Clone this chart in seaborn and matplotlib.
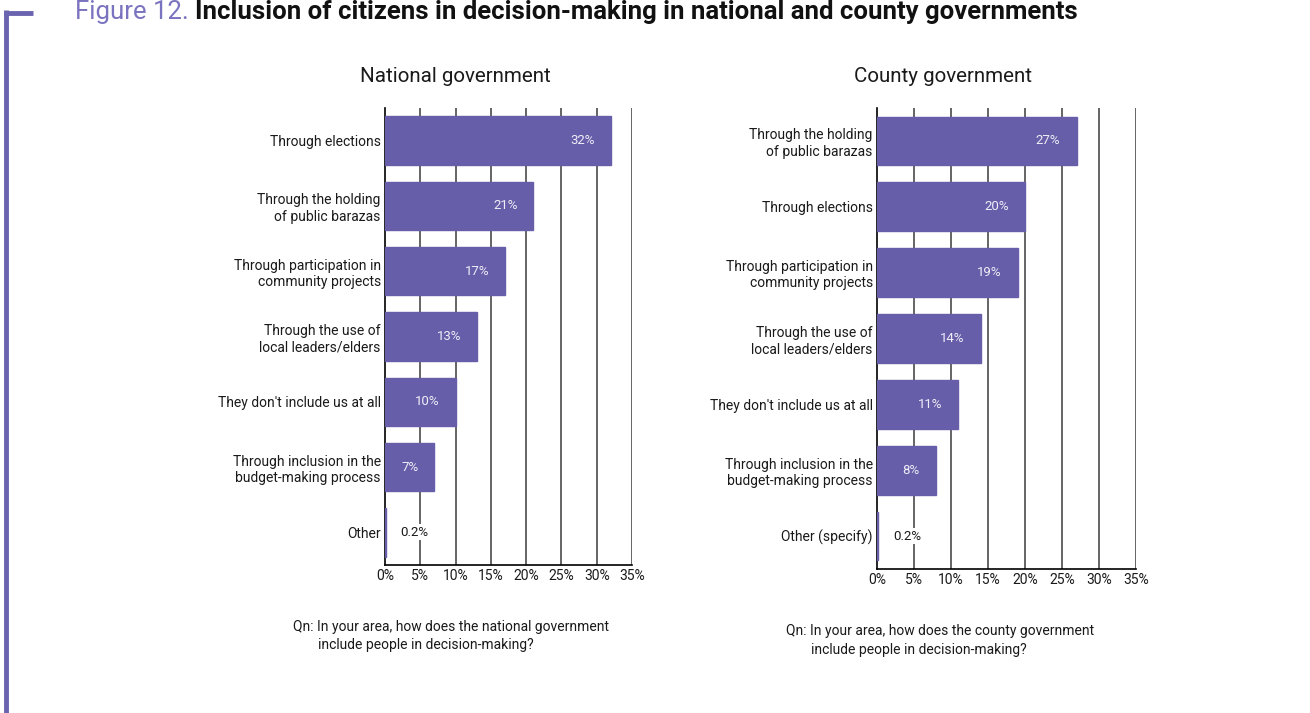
import matplotlib
matplotlib.use("Agg")
import matplotlib.pyplot as plt
import seaborn as sns
import pandas as pd
from matplotlib.lines import Line2D
from matplotlib.ticker import FuncFormatter

national_cats = ["Through elections", "Through the holding\nof public barazas",
                 "Through participation in\ncommunity projects", "Through the use of\nlocal leaders/elders",
                 "They don't include us at all", "Through inclusion in the\nbudget-making process", "Other"]
national_vals = [32, 21, 17, 13, 10, 7, 0.2]
national_labels = ["32%", "21%", "17%", "13%", "10%", "7%", "0.2%"]

county_cats = ["Through the holding\nof public barazas", "Through elections",
               "Through participation in\ncommunity projects", "Through the use of\nlocal leaders/elders",
               "They don't include us at all", "Through inclusion in the\nbudget-making process", "Other (specify)"]
county_vals = [27, 20, 19, 14, 11, 8, 0.2]
county_labels = ["27%", "20%", "19%", "14%", "11%", "8%", "0.2%"]

xticks = [0, 5, 10, 15, 20, 25, 30, 35]

sns.set_theme(style="white")
plt.rcParams['font.family'] = ['Roboto', 'DejaVu Sans']

PURPLE = "#665ea8"
W, H = 1310, 713
fig = plt.figure(figsize=(W/100, H/100), dpi=100)

def draw(rect, cats, vals, labels, title, title_x, note_lines, note_x, note_y):
    ax = fig.add_axes(rect)
    df = pd.DataFrame({"cat": cats, "val": vals})
    sns.barplot(data=df, y="cat", x="val", orient="h", color=PURPLE, width=0.74,
                saturation=1, linewidth=1.0, edgecolor=PURPLE, ax=ax)
    ax.set_xlim(0, 35)
    ax.set_ylim(6.5, -0.5)
    ax.set_xticks(xticks)
    ax.xaxis.set_major_formatter(FuncFormatter(lambda v, p: f"{int(v)}%"))
    ax.set_xlabel("")
    ax.set_ylabel("")
    for x in xticks[1:]:
        ax.axvline(x, color="#3a3a3a", lw=1.1, zorder=0)
    for s in ["top", "right"]:
        ax.spines[s].set_visible(False)
    for s in ["left", "bottom"]:
        ax.spines[s].set_color("black")
        ax.spines[s].set_linewidth(1.2)
        ax.spines[s].set_zorder(0.5)
    ax.tick_params(axis="both", length=0, labelsize=10, colors="#1a1a1a", pad=3)
    for lab in ax.get_yticklabels():
        lab.set_horizontalalignment("right")
        lab.set_multialignment("right")
    for i, (v, l) in enumerate(zip(vals, labels)):
        if v >= 3:
            ax.text(v - 2.2, i, l, ha="right", va="center", color="#f0eef8", fontsize=9.5)
        else:
            ax.text(v + 2.0, i, l, ha="left", va="center", color="#1a1a1a", fontsize=9.5,
                    bbox=dict(facecolor="white", edgecolor="none", pad=1))
    fig.text(title_x / W, 1 - 77 / H, title, ha="center", va="center", fontsize=14.8, color="#1a1a1a")
    fig.text(note_x[0] / W, 1 - note_y[0] / H, note_lines[0], ha="left", va="center", fontsize=10, color="#1a1a1a")
    fig.text(note_x[1] / W, 1 - note_y[1] / H, note_lines[1], ha="left", va="center", fontsize=10, color="#1a1a1a")
    return ax

draw([385 / W, 1 - 565 / H, 247 / W, 457 / H], national_cats, national_vals, national_labels,
     "National government", 455,
     ["Qn: In your area, how does the national government", "include people in decision-making?"],
     (293, 318), (627, 645))
draw([877 / W, 1 - 569 / H, 259 / W, 461 / H], county_cats, county_vals, county_labels,
     "County government", 943,
     ["Qn: In your area, how does the county government", "include people in decision-making?"],
     (786, 811), (631, 650))

# decorative frame
fig.add_artist(Line2D([5.5 / W, 5.5 / W], [0, 1 - 10 / H], color="#6a64b0", lw=3.5,
                      solid_capstyle="butt", transform=fig.transFigure))
fig.add_artist(Line2D([4 / W, 33 / W], [1 - 12.5 / H, 1 - 12.5 / H], color="#6a64b0", lw=3.5,
                      solid_capstyle="butt", transform=fig.transFigure))

t1 = fig.text(75 / W, 1 - 12 / H, "Figure 12. ", ha="left", va="center", fontsize=18.5, color="#7a73bf")
fig.canvas.draw()
bb = t1.get_window_extent()
fig.text(bb.x1 / W, 1 - 12 / H, "Inclusion of citizens in decision-making in national and county governments",
         ha="left", va="center", fontsize=18.5, fontweight="bold", color="#111111")

fig.savefig("out.png", dpi=100)
